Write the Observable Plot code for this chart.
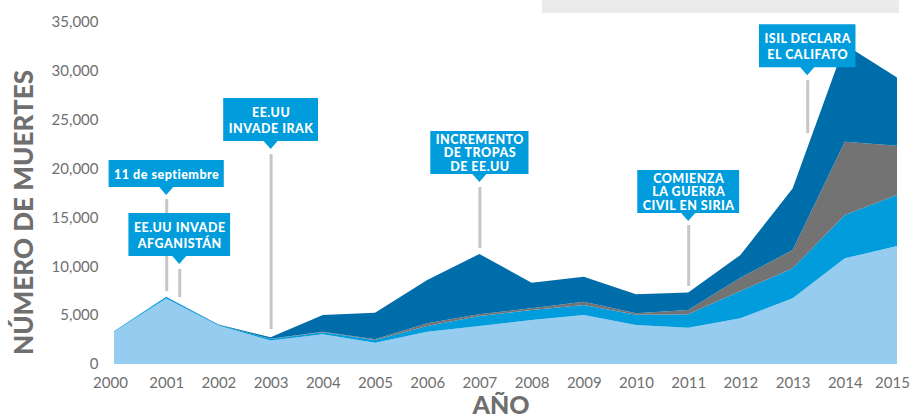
<!DOCTYPE html>
<html><head><meta charset="utf-8">
<script src="https://cdn.jsdelivr.net/npm/d3@7"></script>
<script src="https://cdn.jsdelivr.net/npm/@observablehq/plot@0.6"></script>
<style>
html,body{margin:0;padding:0;background:#fff;}
#chart{position:relative;width:911px;height:419px;overflow:hidden;}
g[aria-label="text"]{letter-spacing:0.5px;}
</style></head><body><div id="chart"></div>
<script>
// ---- data ----
const years = [2000,2001,2002,2003,2004,2005,2006,2007,2008,2009,2010,2011,2012,2013,2014,2015];
const seriesNames = ["Serie 1","Serie 2","Serie 3","Serie 4"];
const serie1 = [3300,6700,3950,2400,3040,2180,3300,3890,4500,5010,3990,3710,4670,6720,10810,12070];
const serie2 = [50,150,50,150,200,270,590,1020,1020,1030,1050,1370,2800,3070,4430,5220];
const serie3 = [0,0,0,30,50,80,270,170,180,330,150,440,1360,1870,7500,5040];
const serie4 = [0,30,50,150,1720,2720,4430,6170,2620,2560,1940,1810,2320,6310,9960,7000];
const yTicks = [0,5000,10000,15000,20000,25000,30000,35000];

const eventLabels = ["11 de septiembre","EE.UU INVADE\nAFGANISTÁN","EE.UU\nINVADE IRAK","INCREMENTO\nDE TROPAS\nDE EE.UU","COMIENZA\nLA GUERRA\nCIVIL EN SIRIA","ISIL DECLARA\nEL CALIFATO"];
const eventYear = [2001, 2001.25, 2003, 2007, 2011, 2013.28];
const eventBoxValue = [19490, 13250, 25010, 21640, 17650, 32580];
const eventLineLow = [7470, 6850, 3580, 11870, 7980, 23630];
const eventLineHigh = [16880, 9720, 21480, 18110, 14220, 29050];

// ---- build table ----
const layers = [serie1, serie2, serie3, serie4];
const rows = [];
seriesNames.forEach((s, j) => years.forEach((yr, i) => rows.push({year: yr, series: s, value: layers[j][i]})));
const events = eventLabels.map((t, i) => ({label: t, year: eventYear[i], box: eventBoxValue[i], lo: eventLineLow[i], hi: eventLineHigh[i], lines: t.split("\n").length}));

const colors = ["#95ccf0", "#009cdc", "#737373", "#006dab"];
const calloutBlue = "#009cdc";
const calloutFont = "Lato, 'DejaVu Sans', sans-serif";

const chart = Plot.plot({
  width: 911, height: 419,
  marginLeft: 114, marginRight: 14, marginTop: 22, marginBottom: 55,
  style: {fontFamily: "Lato, sans-serif", fontSize: "15px", color: "#6f6f6f", background: "#fff"},
  x: {domain: [2000, 2015], ticks: years, tickFormat: d => String(d), tickSize: 0, tickPadding: 13, label: null},
  y: {domain: [0, 35000], ticks: yTicks, tickFormat: d3.format(","), tickSize: 0, tickPadding: 16, label: null},
  color: {domain: seriesNames, range: colors},
  marks: [
    Plot.areaY(rows, {x: "year", y: "value", fill: "series", z: "series"}),
    Plot.ruleX(events, {x: "year", y1: "lo", y2: "hi", stroke: "#c6c6c6", strokeWidth: 3}),
    Plot.text(events.filter(d => d.lines < 3), {x: "year", y: "box", text: "label", fill: "white", fontWeight: 900, fontSize: 12.5, fontFamily: calloutFont, lineHeight: 1.28, lineAnchor: "middle"}),
    Plot.text(events.filter(d => d.lines >= 3), {x: "year", y: "box", text: "label", fill: "white", fontWeight: 900, fontSize: 12.5, fontFamily: calloutFont, lineHeight: 1.1, lineAnchor: "middle"})
  ]
});

const holder = document.getElementById("chart");
holder.appendChild(chart);
const svg = d3.select(chart);
const xs = chart.scale("x"), ys = chart.scale("y");

// callout boxes with pointer, drawn behind their labels
const textGroups = chart.querySelectorAll('g[aria-label="text"]');
const boxLayer = svg.insert("g", 'g[aria-label="text"]').attr("aria-label", "callout boxes");
const allEvents = events.filter(d => d.lines < 3).concat(events.filter(d => d.lines >= 3));
let k = 0;
textGroups.forEach(g => {
  g.querySelectorAll("text").forEach(t => {
    const ev = allEvents[k++];
    const r = t.getBoundingClientRect();
    const w = r.width + 10;
    const h = ev.lines === 1 ? 27 : 43;
    const cx = xs.apply(ev.year), cy = ys.apply(ev.box);
    const x0 = cx - w / 2, x1 = cx + w / 2, y0 = cy - h / 2, y1 = cy + h / 2;
    boxLayer.append("path")
      .attr("d", `M${x0},${y0}H${x1}V${y1}H${cx + 7}L${cx},${y1 + 8}L${cx - 7},${y1}H${x0}Z`)
      .attr("fill", calloutBlue);
  });
});

// keep the last year label inside the picture, as in the reference
const xTickTexts = chart.querySelectorAll('g[aria-label="x-axis tick label"] text, g[aria-label="x-axis"] text');
if (xTickTexts.length) {
  const last = xTickTexts[xTickTexts.length - 1];
  last.setAttribute("dx", "-5");
  const first = xTickTexts[0];
  first.setAttribute("dx", "-4");
}

// legend remnant (grey band at the top)
svg.insert("rect", ":first-child").attr("x", 542).attr("y", 0).attr("width", 357).attr("height", 13).attr("fill", "#ebebeb");
svg.select("rect").lower();
svg.select("style").lower();

// axis titles
svg.append("text")
  .attr("transform", `translate(33,${(70 + 355) / 2}) rotate(-90)`)
  .attr("text-anchor", "middle")
  .attr("fill", "#6f6f6f")
  .attr("font-family", "Lato, sans-serif").attr("font-weight", 900).attr("font-size", 26)
  .attr("textLength", 285).attr("lengthAdjust", "spacing")
  .text("NÚMERO DE MUERTES");
svg.append("text")
  .attr("x", 501).attr("y", 414)
  .attr("text-anchor", "middle")
  .attr("fill", "#6f6f6f")
  .attr("font-family", "Lato, sans-serif").attr("font-weight", 900).attr("font-size", 25)
  .text("AÑO");
</script>
</body></html>
